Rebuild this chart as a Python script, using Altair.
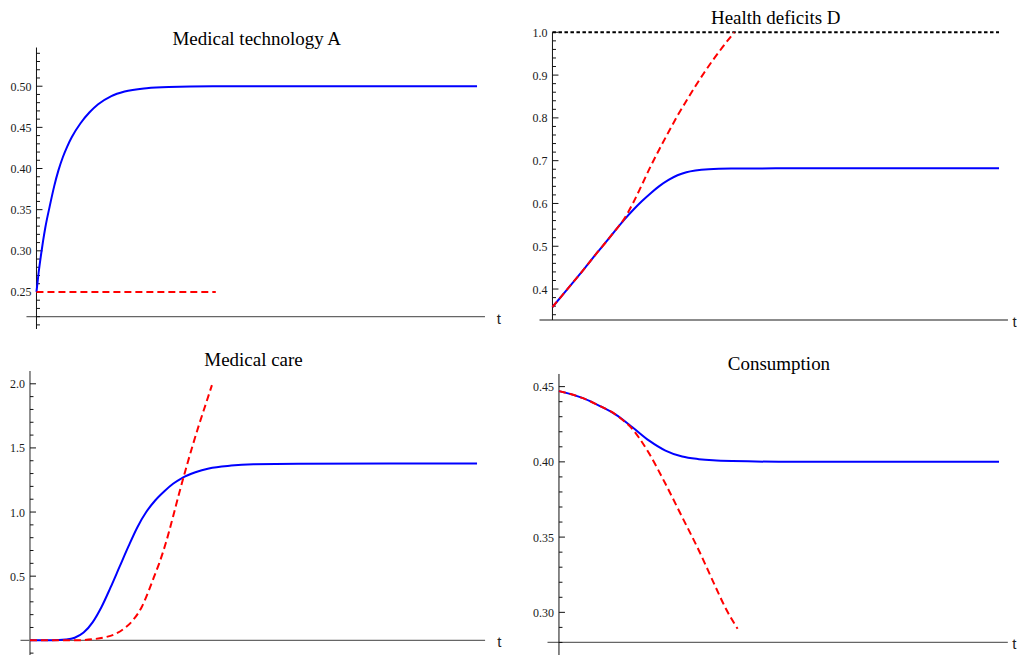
import altair as alt
import pandas as pd

# ---------------- data ----------------
# Medical technology A
A_t = [0, 0.5, 1, 1.5, 2, 3, 4, 5, 6, 7, 8, 10, 12, 14, 17, 20, 25, 30, 40, 100]
A_blue = [0.250, 0.274, 0.294, 0.312, 0.328, 0.354, 0.378, 0.398, 0.414, 0.427,
          0.438, 0.455, 0.468, 0.478, 0.488, 0.4935, 0.4975, 0.499, 0.4998, 0.500]
A_red_t = [0, 40.7]
A_red = [0.25, 0.25]
A_major = [0.25, 0.30, 0.35, 0.40, 0.45, 0.50]
A_labels = ["0.25", "0.30", "0.35", "0.40", "0.45", "0.50"]

# Health deficits D
D_t = [0, 2, 4, 6, 8, 10, 12, 14, 16, 18, 20, 22, 24, 26, 28, 30, 32, 35, 40, 50, 100]
D_blue = [0.358, 0.383, 0.408, 0.433, 0.459, 0.485, 0.510, 0.536, 0.561, 0.584,
          0.605, 0.624, 0.641, 0.655, 0.666, 0.673, 0.677, 0.680, 0.6815, 0.682, 0.682]
D_red_t = [0, 2, 4, 6, 8, 10, 12, 14, 16, 18, 20, 22, 24, 26, 28, 30, 32, 34, 36,
           38, 40.7]
D_red = [0.358, 0.383, 0.408, 0.433, 0.459, 0.485, 0.510, 0.536, 0.563, 0.600,
         0.643, 0.687, 0.728, 0.767, 0.805, 0.840, 0.874, 0.906, 0.936, 0.964, 1.000]
D_major = [0.4, 0.5, 0.6, 0.7, 0.8, 0.9, 1.0]
D_labels = ["0.4", "0.5", "0.6", "0.7", "0.8", "0.9", "1.0"]
D_limit = [1.0]

# Medical care
M_t = [0, 5, 8, 10, 12, 14, 16, 18, 20, 22, 24, 26, 28, 30, 32, 34, 37, 40, 45, 50,
       60, 100]
M_blue = [0, 0, 0.006, 0.02, 0.06, 0.14, 0.26, 0.41, 0.57, 0.73, 0.88, 1.0, 1.09,
          1.16, 1.22, 1.265, 1.31, 1.34, 1.362, 1.372, 1.377, 1.378]
M_red_t = [0, 10, 14, 17, 19, 21, 23, 25, 26.6, 27.7, 28.9, 30.4, 31.9, 33.4, 34.9,
           36.4, 37.9, 39.4, 40.7]
M_red = [0, 0, 0.008, 0.025, 0.048, 0.09, 0.155, 0.26, 0.39, 0.49, 0.60, 0.76, 0.95,
         1.15, 1.34, 1.52, 1.69, 1.85, 1.99]
M_major = [0.5, 1.0, 1.5, 2.0]
M_labels = ["0.5", "1.0", "1.5", "2.0"]

# Consumption
C_t = [0, 5.3, 9.1, 12.9, 16.7, 20.5, 24.2, 28, 31.8, 35, 39.4, 50, 100]
C_blue = [0.447, 0.4425, 0.4374, 0.4314, 0.4230, 0.4141, 0.4075, 0.4035, 0.4018,
          0.4010, 0.4005, 0.4001, 0.4000]
C_red_t = [0, 5.3, 9.1, 12.9, 15, 16.7, 18.2, 20.5, 24.2, 28, 31.8, 35.6, 38, 40.6]
C_red = [0.447, 0.4425, 0.4374, 0.4314, 0.4265, 0.4218, 0.4160, 0.4055, 0.3854,
         0.3633, 0.3411, 0.3168, 0.302, 0.2891]
C_major = [0.30, 0.35, 0.40, 0.45]
C_labels = ["0.30", "0.35", "0.40", "0.45"]


def minor_ticks(lo, hi, step, majors):
    n = int(round((hi - lo) / step))
    vals = [round(lo + i * step, 4) for i in range(n + 1)]
    return [v for v in vals if all(abs(v - m) > 1e-9 for m in majors)]


A_minor = minor_ticks(0.21, 0.54, 0.01, A_major)
D_minor = minor_ticks(0.34, 0.98, 0.02, D_major)
M_minor = minor_ticks(-0.1, 1.9, 0.1, M_major)
C_minor = minor_ticks(0.28, 0.44, 0.01, C_major)

SERIF = "Liberation Serif"
SANS = "Liberation Sans"
ONE = pd.DataFrame({"k": [0]})


def panel(title, x_dom, y_dom, w, h, bt, bv, rt, rv, majors, labels, minors,
          x_axis_y, x_rule, y_rule, y_axis_color, y_axis_w, title_y, t_pos,
          limit=None):
    sx = alt.Scale(domain=x_dom, nice=False, zero=False)
    sy = alt.Scale(domain=y_dom, nice=False, zero=False)

    def XD(v):
        return alt.XDatum(v, scale=sx, axis=None)

    def YD(v):
        return alt.YDatum(v, scale=sy, axis=None)

    def XF(f):
        return alt.X(f, type="quantitative", scale=sx, axis=None)

    def YF(f):
        return alt.Y(f, type="quantitative", scale=sy, axis=None)

    layers = []
    # horizontal axis line
    layers.append(alt.Chart(ONE).mark_rule(color="#666666", strokeWidth=1.3).encode(
        x=XD(x_rule[0]), x2=alt.X2Datum(x_rule[1]), y=YD(x_axis_y)))
    # vertical axis line
    layers.append(alt.Chart(ONE).mark_rule(color=y_axis_color, strokeWidth=y_axis_w).encode(
        x=XD(0), y=YD(y_rule[0]), y2=alt.Y2Datum(y_rule[1])))
    # ticks
    layers.append(alt.Chart(pd.DataFrame({"v": minors})).mark_tick(
        orient="horizontal", size=3.5, thickness=1, xOffset=1.75, color="#111111",
        opacity=1).encode(x=XD(0), y=YF("v")))
    layers.append(alt.Chart(pd.DataFrame({"v": majors})).mark_tick(
        orient="horizontal", size=6, thickness=1, xOffset=3, color="#111111",
        opacity=1).encode(x=XD(0), y=YF("v")))
    # tick labels
    layers.append(alt.Chart(pd.DataFrame({"v": majors, "lab": labels})).mark_text(
        align="right", baseline="middle", dx=-5, dy=0.5, font=SERIF, fontSize=12,
        color="#1a1a1a").encode(x=XD(0), y=YF("v"), text="lab:N"))
    if limit is not None:
        layers.append(alt.Chart(pd.DataFrame({"v": limit})).mark_rule(
            color="black", strokeWidth=2, strokeDash=[3.5, 2.5]).encode(
            x=XD(0), x2=alt.X2Datum(100), y=YF("v")))
    # curves
    layers.append(alt.Chart(pd.DataFrame({"t": bt, "v": bv})).mark_line(
        color="#0000ff", strokeWidth=2, interpolate="monotone").encode(
        x=XF("t"), y=YF("v")))
    layers.append(alt.Chart(pd.DataFrame({"t": rt, "v": rv})).mark_line(
        color="#ff0000", strokeWidth=2, strokeDash=[7, 4], interpolate="monotone").encode(
        x=XF("t"), y=YF("v")))
    # title and axis label
    layers.append(alt.Chart(pd.DataFrame({"s": [title]})).mark_text(
        align="center", baseline="alphabetic", font=SERIF, fontSize=19,
        color="black").encode(x=XD(50), y=YD(title_y), text="s:N"))
    layers.append(alt.Chart(pd.DataFrame({"s": ["t"]})).mark_text(
        align="left", baseline="alphabetic", dy=7, font=SANS, fontSize=15,
        color="#222222").encode(x=XD(t_pos), y=YD(x_axis_y), text="s:N"))
    return alt.layer(*layers).properties(width=w, height=h)


p1 = panel("Medical technology A", [-1.474, 100], [0.205, 0.5655], 447.5, 297,
           A_t, A_blue, A_red_t, A_red, A_major, A_labels, A_minor,
           0.22, [-2.27, 101.8], [0.205, 0.547], "#111111", 1, 0.5505, 104.5)
p2 = panel("Health deficits D", [0, 100], [0.3276, 1.0], 447, 288,
           D_t, D_blue, D_red_t, D_red, D_major, D_labels, D_minor,
           0.3276, [-2.9, 102], [0.3276, 1.0], "#111111", 1, 1.0201, 103.0,
           limit=D_limit)
p3 = panel("Medical care", [0, 100], [-0.12, 2.10], 447.5, 285,
           M_t, M_blue, M_red_t, M_red, M_major, M_labels, M_minor,
           0.0, [-2.12, 101.8], [-0.12, 2.10], "#777777", 1.6, 2.141, 104.5)
p4 = panel("Consumption", [-1.476, 100], [0.2712, 0.4604], 447, 285,
           C_t, C_blue, C_red_t, C_red, C_major, C_labels, C_minor,
           0.28, [-2.6, 102], [0.2712, 0.4584], "#111111", 1, 0.4613, 103.0)

chart = alt.concat(p1, p2, p3, p4, columns=2,
                   spacing={"row": 42, "column": 75},
                   bounds="flush", align="each").properties(
    padding={"left": 2, "top": 0, "right": 0, "bottom": 0}
).configure_view(stroke=None)

chart.save("out.html", embed_options={"renderer": "svg", "actions": False})
